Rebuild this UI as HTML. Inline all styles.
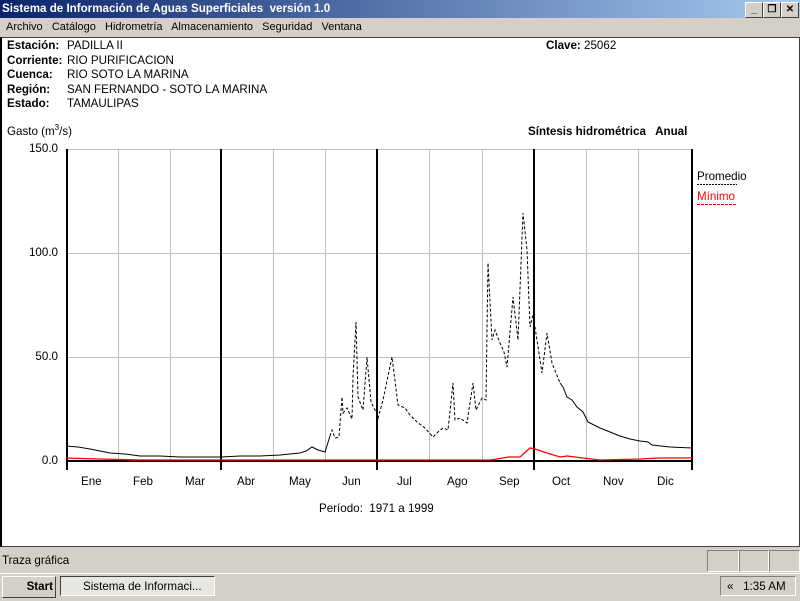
<!DOCTYPE html>
<html><head><meta charset="utf-8"><style>
body{margin:0;width:800px;height:600px;overflow:hidden;background:#d4d0c8;font-family:"Liberation Sans",sans-serif;position:relative}
.t{position:absolute;white-space:nowrap}
#title{position:absolute;left:0;top:0;width:800px;height:18px;background:linear-gradient(90deg,#0a246a,#a6caf0);color:#fff;font-weight:bold;font-size:11.6px;line-height:18px}
.btn{position:absolute;top:2px;width:16px;height:14px;background:#d4d0c8;border:1px solid;border-color:#fff #404040 #404040 #fff;font-size:10px;line-height:14px;text-align:center;color:#000;font-weight:bold}
#client{position:absolute;left:0;top:37px;width:797px;height:508px;background:#fff;border:1px solid #404040;border-left:2px solid #000}
.f{font-size:11.6px;color:#000}
.b{font-weight:bold}
</style></head><body>
<div id="title"><span style="padding-left:2px">Sistema de Información de Aguas Superficiales&nbsp; versión 1.0</span>
<div class="btn" style="left:745px">_</div><div class="btn" style="left:763px">❐</div><div class="btn" style="left:781px">✕</div></div>
<div class="t" style="left:6px;top:21px;font-size:11px">Archivo&nbsp;&nbsp; Catálogo&nbsp;&nbsp; Hidrometría&nbsp;&nbsp; Almacenamiento&nbsp;&nbsp; Seguridad&nbsp;&nbsp; Ventana</div>
<div id="client"></div>
<div class="t f b" style="left:7px;top:39px;line-height:14.5px">Estación:<br>Corriente:<br>Cuenca:<br>Región:<br>Estado:</div>
<div class="t f" style="left:67px;top:39px;line-height:14.5px">PADILLA II<br>RIO PURIFICACION<br>RIO SOTO LA MARINA<br>SAN FERNANDO - SOTO LA MARINA<br>TAMAULIPAS</div>
<div class="t f" style="left:546px;top:39px"><b>Clave:</b> 25062</div>
<div class="t f" style="left:7px;top:123px">Gasto (m<sup style="font-size:8px">3</sup>/s)</div>
<div class="t f b" style="left:528px;top:125px">Síntesis hidrométrica&nbsp;&nbsp; Anual</div>
<svg style="position:absolute;left:0;top:0" width="800" height="600">
<g stroke="#c0c0c0" stroke-width="1">
<line x1="66" y1="149.5" x2="692" y2="149.5"/><line x1="66" y1="253.5" x2="692" y2="253.5"/><line x1="66" y1="357.5" x2="692" y2="357.5"/>
<line x1="118.5" y1="149" x2="118.5" y2="461"/><line x1="170.5" y1="149" x2="170.5" y2="461"/><line x1="273.5" y1="149" x2="273.5" y2="461"/><line x1="325.5" y1="149" x2="325.5" y2="461"/><line x1="429.5" y1="149" x2="429.5" y2="461"/><line x1="482.5" y1="149" x2="482.5" y2="461"/><line x1="586.5" y1="149" x2="586.5" y2="461"/><line x1="638.5" y1="149" x2="638.5" y2="461"/>
</g>
<g stroke="#000" stroke-width="2">
<line x1="67" y1="149" x2="67" y2="470"/><line x1="221" y1="149" x2="221" y2="470"/><line x1="377" y1="149" x2="377" y2="470"/><line x1="534" y1="149" x2="534" y2="470"/><line x1="692" y1="149" x2="692" y2="470"/>
<line x1="66" y1="461" x2="692" y2="461"/>
</g>
<polyline fill="none" stroke="#000" stroke-width="1" points="66,446 78,447 90,449 100,451 110,453 125,454 140,456 160,456 180,457 200,457 221,457 240,456 260,456 280,455 300,453 306,451 312,447 318,450 325,452 330,436"/>
<polyline fill="none" stroke="#000" stroke-width="1" stroke-dasharray="3,2" points="330,436 332,430 335,438 339,437 342,397 343,413 347,408 352,419 353,377 356,322 358,397 363,410 367,357 371,402 376,412 378,418 383,400 392,357 398,405 405,408 410,415 417,422 425,428 433,437 438,432 443,428 448,430 453,383 455,420 460,418 467,423 473,383 476,410 482,398 486,400 488,263 492,340 495,330 500,343 504,352 507,367 513,297 518,340 523,213 527,250 530,327 533,315 537,340 540,360 542,373 547,333 552,363 560,383"/>
<polyline fill="none" stroke="#000" stroke-width="1" points="560,383 563,387 567,397 572,400 577,407 583,412 588,422 600,428 610,432 620,436 630,439 640,441 648,442 652,445 670,447 692,448"/>
<polyline fill="none" stroke="#f00" stroke-width="1.3" points="66,458 100,459 140,460 300,460 490,460 497,459 508,457 520,457 530,448 535,449 547,453 560,457 567,456 583,458 600,460 640,459 660,458 692,458"/>
<line x1="697" y1="184.5" x2="737" y2="184.5" stroke="#000" stroke-dasharray="2,1"/>
<line x1="697" y1="204.5" x2="737" y2="204.5" stroke="#f00" stroke-dasharray="3,1"/>
</svg>
<div class="t f" style="left:697px;top:170px">Promedio</div>
<div class="t f" style="left:697px;top:190px;color:#f00">Mínimo</div>
<div class="t f" style="left:18px;top:142px;width:40px;text-align:right">150.0</div>
<div class="t f" style="left:18px;top:246px;width:40px;text-align:right">100.0</div>
<div class="t f" style="left:18px;top:350px;width:40px;text-align:right">50.0</div>
<div class="t f" style="left:18px;top:454px;width:40px;text-align:right">0.0</div>
<div class="t f" style="top:475px;left:0;width:800px;height:15px">
<span class="t" style="left:81px">Ene</span><span class="t" style="left:133px">Feb</span><span class="t" style="left:185px">Mar</span><span class="t" style="left:237px">Abr</span><span class="t" style="left:289px">May</span><span class="t" style="left:342px">Jun</span><span class="t" style="left:397px">Jul</span><span class="t" style="left:447px">Ago</span><span class="t" style="left:499px">Sep</span><span class="t" style="left:552px">Oct</span><span class="t" style="left:603px">Nov</span><span class="t" style="left:657px">Dic</span></div>
<div class="t f" style="left:319px;top:502px">Período:&nbsp; 1971 a 1999</div>
<div class="t f" style="left:2px;top:554px">Traza gráfica</div>
<div style="position:absolute;left:707px;top:550px;width:30px;height:20px;border:1px solid;border-color:#808080 #fff #fff #808080"></div>
<div style="position:absolute;left:739px;top:550px;width:28px;height:20px;border:1px solid;border-color:#808080 #fff #fff #808080"></div>
<div style="position:absolute;left:769px;top:550px;width:29px;height:20px;border:1px solid;border-color:#808080 #fff #fff #808080"></div>
<div style="position:absolute;left:0;top:573px;width:800px;height:27px;background:#d4d0c8;border-top:1px solid #fff"></div>
<div class="t f b" style="left:2px;top:576px;width:50px;height:20px;border:1px solid;border-color:#fff #404040 #404040 #fff;line-height:20px;text-align:right;padding-right:2px">Start</div>
<div class="t f" style="left:60px;top:576px;width:155px;height:20px;border:1px solid;border-color:#404040 #fff #fff #404040;background:#e8e6e0;line-height:20px;padding-left:22px;box-sizing:border-box">Sistema de Informaci...</div>
<div class="t f" style="left:720px;top:576px;width:76px;height:20px;border:1px solid;border-color:#808080 #fff #fff #808080;line-height:20px;padding-left:6px;box-sizing:border-box">«&nbsp;&nbsp; 1:35 AM</div>
</body></html>
